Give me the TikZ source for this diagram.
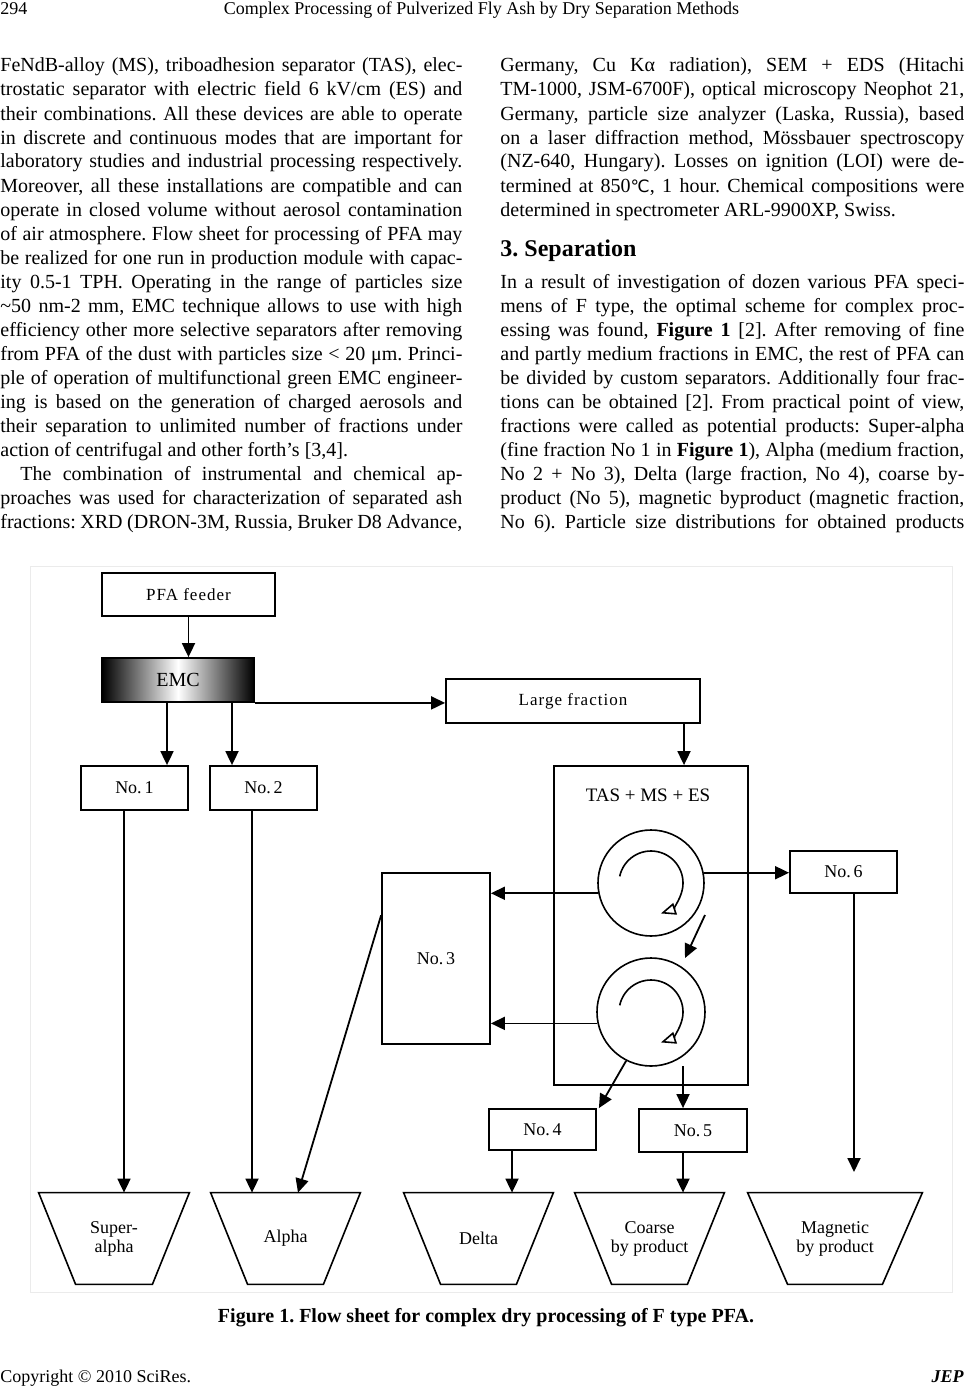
\documentclass[tikz,border=0pt]{standalone}
\usepackage{fontspec}
\usepackage{graphicx}
\setmainfont{Liberation Serif}
\newfontfamily\dejafont{DejaVu Sans}
\newfontfamily\diafont[LetterSpace=6]{Liberation Serif}
\usetikzlibrary{arrows.meta,calc}
\newlength\pxu
\setlength\pxu{0.5pt}
\newcommand\Ljl[1]{\makebox[462\pxu][s]{#1}}
\newcommand\Rjl[1]{\makebox[464\pxu][s]{#1}}
\newcommand\degc{{\dejafont\fontsize{8.5}{10}\selectfont ℃}}
\frenchspacing
\begin{document}
\frenchspacing
\begin{tikzpicture}[x=0.5pt,y=-0.5pt,
  body/.style={anchor=base west,inner sep=0pt,font=\fontsize{10}{12}\selectfont},
  box/.style={draw,line width=0.9pt,inner sep=0pt,font=\fontsize{9}{10}\selectfont},
  arr/.style={line width=0.9pt,-{Triangle[length=7pt,width=6.5pt]}},
  ring/.style={circle,draw,line width=0.8pt,inner sep=0pt},
  swirl/.style={line width=0.8pt,-{Triangle[open,length=7.5pt,width=6pt,fill=white]}},
  tz/.style={inner sep=0pt,minimum height=91\pxu,align=center,font=\fontsize{9}{9.5}\selectfont},
  tzline/.style={draw,line width=0.8pt,line join=miter},
]
\fill[white] (0,0) rectangle (965,1386);
\useasboundingbox (0,0) rectangle (965,1386);

% header
\node[anchor=base west,inner sep=0pt,font=\fontsize{9}{11}\selectfont] (pg) at (0,15) {294};
\node[anchor=base,inner sep=0pt,font=\fontsize{9}{11}\selectfont] (title) at (481.5,15) {Complex Processing of Pulverized Fly Ash by Dry Separation Methods};

% left column
\node[body] (l1) at (0,72) {\Ljl{FeNdB-alloy (MS), triboadhesion separator (TAS), elec-}};
\node[body] (l2) at (0,96) {\Ljl{trostatic separator with electric field 6 kV/cm (ES) and}};
\node[body] (l3) at (0,120) {\Ljl{their combinations. All these devices are able to operate}};
\node[body] (l4) at (0,144) {\Ljl{in discrete and continuous modes that are important for}};
\node[body] (l5) at (0,168) {\Ljl{laboratory studies and industrial processing respectively.}};
\node[body] (l6) at (0,192) {\Ljl{Moreover, all these installations are compatible and can}};
\node[body] (l7) at (0,216) {\Ljl{operate in closed volume without aerosol contamination}};
\node[body] (l8) at (0,240) {\Ljl{of air atmosphere. Flow sheet for processing of PFA may}};
\node[body] (l9) at (0,264) {\Ljl{be realized for one run in production module with capac-}};
\node[body] (l10) at (0,288) {\Ljl{ity 0.5-1 TPH. Operating in the range of particles size}};
\node[body] (l11) at (0,312) {\Ljl{\textasciitilde50 nm-2 mm, EMC technique allows to use with high}};
\node[body] (l12) at (0,336) {\Ljl{efficiency other more selective separators after removing}};
\node[body] (l13) at (0,360) {\Ljl{from PFA of the dust with particles size < 20 μm. Princi-}};
\node[body] (l14) at (0,384) {\Ljl{ple of operation of multifunctional green EMC engineer-}};
\node[body] (l15) at (0,408) {\Ljl{ing is based on the generation of charged aerosols and}};
\node[body] (l16) at (0,432) {\Ljl{their separation to unlimited number of fractions under}};
\node[body] (l17) at (0,456) {action of centrifugal and other forth’s [3,4].};
\node[body] (l18) at (20,480) {\makebox[442\pxu][s]{The combination of instrumental and chemical ap-}};
\node[body] (l19) at (0,504) {\Ljl{proaches was used for characterization of separated ash}};
\node[body] (l20) at (0,528) {\Ljl{fractions: XRD (DRON-3M, Russia, Bruker D8 Advance,}};

% right column
\node[body] (r1) at (500,72) {\Rjl{Germany, Cu Kα radiation), SEM + EDS (Hitachi}};
\node[body] (r2) at (500,96) {\Rjl{TM-1000, JSM-6700F), optical microscopy Neophot 21,}};
\node[body] (r3) at (500,120) {\Rjl{Germany, particle size analyzer (Laska, Russia), based}};
\node[body] (r4) at (500,144) {\Rjl{on a laser diffraction method, Mössbauer spectroscopy}};
\node[body] (r5) at (500,168) {\Rjl{(NZ-640, Hungary). Losses on ignition (LOI) were de-}};
\node[body] (r6) at (500,192) {\Rjl{termined at 850\degc, 1 hour. Chemical compositions were}};
\node[body] (r7) at (500,216) {determined in spectrometer ARL-9900XP, Swiss.};
\node[anchor=base west,inner sep=0pt,font=\bfseries\fontsize{12}{14}\selectfont] (sec) at (500,256) {3. Separation};
\node[body] (r8) at (500,288) {\Rjl{In a result of investigation of dozen various PFA speci-}};
\node[body] (r9) at (500,312) {\Rjl{mens of F type, the optimal scheme for complex proc-}};
\node[body] (r10) at (500,336) {\Rjl{essing was found, \textbf{Figure 1} [2]. After removing of fine}};
\node[body] (r11) at (500,360) {\Rjl{and partly medium fractions in EMC, the rest of PFA can}};
\node[body] (r12) at (500,384) {\Rjl{be divided by custom separators. Additionally four frac-}};
\node[body] (r13) at (500,408) {\Rjl{tions can be obtained [2]. From practical point of view,}};
\node[body] (r14) at (500,432) {\Rjl{fractions were called as potential products: Super-alpha}};
\node[body] (r15) at (500,456) {\Rjl{(fine fraction No 1 in \textbf{Figure 1}), Alpha (medium fraction,}};
\node[body] (r16) at (500,480) {\Rjl{No 2 + No 3), Delta (large fraction, No 4), coarse by-}};
\node[body] (r17) at (500,504) {\Rjl{product (No 5), magnetic byproduct (magnetic fraction,}};
\node[body] (r18) at (500,528) {\Rjl{No 6). Particle size distributions for obtained products}};

% figure frame
\draw[black!8,line width=0.5pt] (30,566) rectangle (952,1292);

% diagram boxes
\node[box,minimum width=173\pxu,minimum height=43\pxu,font=\diafont\fontsize{8.5}{10}\selectfont] (feeder) at (188.5,594.5) {PFA feeder};
\node[box,minimum width=152\pxu,minimum height=44\pxu,left color=black,right color=black,middle color=white,font=\fontsize{10}{12}\selectfont] (emc) at (178,680) {EMC};
\node[box,minimum width=254\pxu,minimum height=44\pxu,font=\diafont\fontsize{8.5}{10}\selectfont] (lf) at (573,701) {Large fraction};
\node[box,minimum width=107\pxu,minimum height=44\pxu] (n1) at (134.5,788) {No.\,1};
\node[box,minimum width=107\pxu,minimum height=44\pxu] (n2) at (263.5,788) {No.\,2};
\node[box,minimum width=194\pxu,minimum height=319\pxu] (tas) at (651,925.5) {};
\node[inner sep=0pt,font=\fontsize{9.5}{11}\selectfont] (taslbl) at (648,795) {TAS + MS + ES};
\node[box,minimum width=108\pxu,minimum height=171\pxu] (n3) at (436,958.5) {No.\,3};
\node[box,minimum width=107\pxu,minimum height=42\pxu] (n6) at (843.5,872) {No.\,6};
\node[box,minimum width=107\pxu,minimum height=41\pxu] (n4) at (542.5,1129.5) {No.\,4};
\node[box,minimum width=108\pxu,minimum height=43\pxu] (n5) at (693,1130.5) {No.\,5};

% separator rings
\node[ring,minimum size=106\pxu] (c1) at (651,883) {};
\node[ring,minimum size=108\pxu] (c2) at (651,1012) {};
\draw[swirl] ($(c1)+(168:32\pxu)$) arc[start angle=168,end angle=-72,radius=32\pxu];
\draw[swirl] ($(c2)+(168:32\pxu)$) arc[start angle=168,end angle=-72,radius=32\pxu];

% trapezoid products
\node[tz,minimum width=150\pxu] (sa) at (114,1238.5) {Super-\\alpha};
\node[tz,minimum width=149\pxu] (al) at (285.5,1238.5) {Alpha};
\node[tz,minimum width=149\pxu] (de) at (478.5,1238.5) {Delta};
\node[tz,minimum width=149\pxu] (co) at (649.5,1238.5) {Coarse\\by product};
\node[tz,minimum width=174\pxu] (ma) at (835,1238.5) {Magnetic\\by product};
\foreach \t/\d in {sa/37,al/37,de/37,co/37,ma/40}{
  \draw[tzline] (\t.north west) -- (\t.north east) -- ([xshift=-\d\pxu]\t.south east) -- ([xshift=\d\pxu]\t.south west) -- cycle;
}

% helper coordinates for vertical connector positions
\coordinate (xa) at (167,0);
\coordinate (xb) at (232,0);
\coordinate (xc) at (684,0);
\coordinate (xd) at (124,0);
\coordinate (xe) at (252,0);
\coordinate (xf) at (512,0);
\coordinate (xg) at (683,0);
\coordinate (xh) at (854,0);
\coordinate (t5) at (683,1066);
\coordinate (dpa) at (705,915);
\coordinate (dpb) at (685,958);
\coordinate (m6) at (854,1172);

% connectors
\draw[arr] (feeder.south) -- (feeder.south |- emc.north);
\draw[arr] (xa |- emc.south) -- (xa |- n1.north);
\draw[arr] (xb |- emc.south) -- (xb |- n2.north);
\draw[arr] (emc.south east) -- (emc.south east -| lf.west);
\draw[arr] (xc |- lf.south) -- (xc |- tas.north);
\draw[arr] (c1.191) -- (c1.191 -| n3.east);
\draw[arr] (c2.192) -- (c2.192 -| n3.east);
\draw[arr] (c1.11) -- (c1.11 -| n6.west);
\draw[arr] (dpa) -- (dpb);
\draw[arr] (c2.-117) -- ([xshift=2\pxu]n4.north east);
\draw[arr] (t5) -- (t5 |- n5.north);
\draw[arr] (xd |- n1.south) -- (xd |- sa.north);
\draw[arr] (xe |- n2.south) -- (xe |- al.north);
\draw[arr] ($(n3.north west)!0.25!(n3.south west)$) -- ([xshift=12.5\pxu]al.north);
\draw[arr] (xf |- n4.south) -- (xf |- de.north);
\draw[arr] (xg |- n5.south) -- (xg |- co.north);
\draw[arr] (xh |- n6.south) -- (m6);

% caption and footer
\node[anchor=base,inner sep=0pt,font=\bfseries\fontsize{10}{12}\selectfont] (cap) at (486,1322) {Figure 1. Flow sheet for complex dry processing of F type PFA.};
\node[anchor=base west,inner sep=0pt,font=\fontsize{9}{11}\selectfont] (copy) at (0,1382) {Copyright © 2010 SciRes.};
\node[anchor=base east,inner sep=0pt,font=\bfseries\itshape\fontsize{9}{11}\selectfont] (jep) at (964,1382) {JEP};
\end{tikzpicture}
\end{document}
